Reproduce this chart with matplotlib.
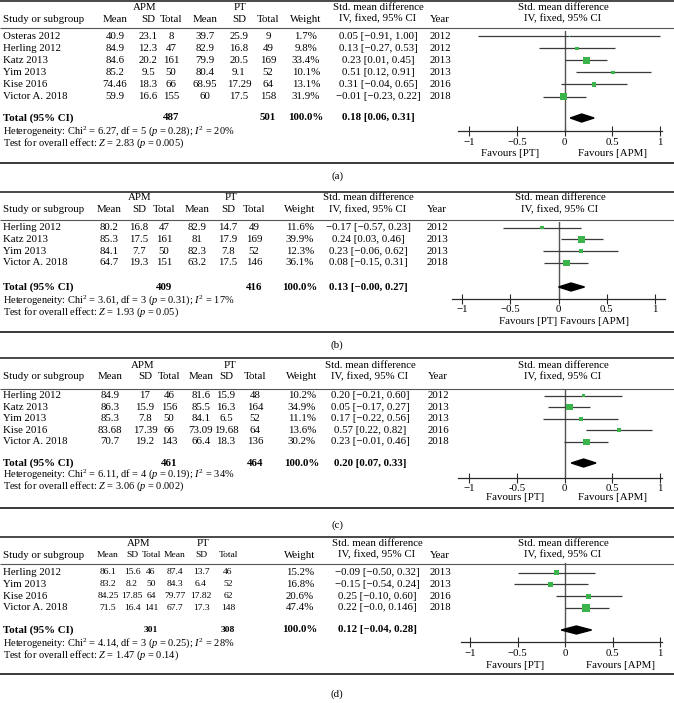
import matplotlib
matplotlib.use('Agg')
import matplotlib.pyplot as plt
from matplotlib.lines import Line2D
from matplotlib.patches import Polygon

plt.rcParams['font.family'] = ['Liberation Serif', 'DejaVu Serif']
plt.rcParams['mathtext.fontset'] = 'custom'
plt.rcParams['mathtext.rm'] = 'Liberation Serif'
plt.rcParams['mathtext.it'] = 'Liberation Serif:italic'
plt.rcParams['mathtext.bf'] = 'Liberation Serif:bold'

# ---------------- data: panel (a) ----------------
a_study = ["Osteras 2012", "Herling 2012", "Katz 2013", "Yim 2013", "Kise 2016", "Victor A. 2018"]
a_apm_mean = [40.9, 84.9, 84.6, 85.2, 74.46, 59.9]
a_apm_sd = [23.1, 12.3, 20.2, 9.5, 18.3, 16.6]
a_apm_n = [8, 47, 161, 50, 66, 155]
a_pt_mean = [39.7, 82.9, 79.9, 80.4, 68.95, 60]
a_pt_sd = [25.9, 16.8, 20.5, 9.1, 17.29, 17.5]
a_pt_n = [9, 49, 169, 52, 64, 158]
a_weight = [1.7, 9.8, 33.4, 10.1, 13.1, 31.9]
a_smd = [0.05, 0.13, 0.23, 0.51, 0.31, -0.01]
a_lo = [-0.91, -0.27, 0.01, 0.12, -0.04, -0.23]
a_hi = [1.00, 0.53, 0.45, 0.91, 0.65, 0.22]
a_ci_text = ["0.05 [−0.91, 1.00]", "0.13 [−0.27, 0.53]", "0.23 [0.01, 0.45]",
             "0.51 [0.12, 0.91]", "0.31 [−0.04, 0.65]", "−0.01 [−0.23, 0.22]"]
a_year = [2012, 2012, 2013, 2013, 2016, 2018]
a_total_n = [487, 501]
a_total_weight = "100.0%"
a_total_smd = [0.18, 0.06, 0.31]
a_total_text = "0.18 [0.06, 0.31]"
a_het = ["6.27", "5", "0.28", "20"]
a_z = ["2.83", "0.005"]
a_ticklabels = ["−1", "−0.5", "0", "0.5", "1"]

# ---------------- data: panel (b) ----------------
b_study = ["Herling 2012", "Katz 2013", "Yim 2013", "Victor A. 2018"]
b_apm_mean = [80.2, 85.3, 84.1, 64.7]
b_apm_sd = [16.8, 17.5, 7.7, 19.3]
b_apm_n = [47, 161, 50, 151]
b_pt_mean = [82.9, 81, 82.3, 63.2]
b_pt_sd = [14.7, 17.9, 7.8, 17.5]
b_pt_n = [49, 169, 52, 146]
b_weight = [11.6, 39.9, 12.3, 36.1]
b_smd = [-0.17, 0.24, 0.23, 0.08]
b_lo = [-0.57, 0.03, -0.16, -0.15]
b_hi = [0.23, 0.46, 0.62, 0.31]
b_ci_text = ["−0.17 [−0.57, 0.23]", "0.24 [0.03, 0.46]", "0.23 [−0.06, 0.62]", "0.08 [−0.15, 0.31]"]
b_year = [2012, 2013, 2013, 2018]
b_total_n = [409, 416]
b_total_weight = "100.0%"
b_total_smd = [0.13, -0.00, 0.27]
b_total_text = "0.13 [−0.00, 0.27]"
b_het = ["3.61", "3", "0.31", "17"]
b_z = ["1.93", "0.05"]
b_ticklabels = ["−1", "−0.5", "0", "0.5", "1"]

# ---------------- data: panel (c) ----------------
c_study = ["Herling 2012", "Katz 2013", "Yim 2013", "Kise 2016", "Victor A. 2018"]
c_apm_mean = [84.9, 86.3, 85.3, 83.68, 70.7]
c_apm_sd = [17, 15.9, 7.8, 17.39, 19.2]
c_apm_n = [46, 156, 50, 66, 143]
c_pt_mean = [81.6, 85.5, 84.1, 73.09, 66.4]
c_pt_sd = [15.9, 16.3, 6.5, 19.68, 18.3]
c_pt_n = [48, 164, 52, 64, 136]
c_weight = [10.2, 34.9, 11.1, 13.6, 30.2]
c_smd = [0.20, 0.05, 0.17, 0.57, 0.23]
c_lo = [-0.21, -0.17, -0.22, 0.22, -0.01]
c_hi = [0.60, 0.27, 0.56, 0.92, 0.46]
c_ci_text = ["0.20 [−0.21, 0.60]", "0.05 [−0.17, 0.27]", "0.17 [−0.22, 0.56]",
             "0.57 [0.22, 0.82]", "0.23 [−0.01, 0.46]"]
c_year = [2012, 2013, 2013, 2016, 2018]
c_total_n = [461, 464]
c_total_weight = "100.0%"
c_total_smd = [0.20, 0.07, 0.33]
c_total_text = "0.20 [0.07, 0.33]"
c_het = ["6.11", "4", "0.19", "34"]
c_z = ["3.06", "0.002"]
c_ticklabels = ["−1", "-0.5", "0", "0.5", "1"]

# ---------------- data: panel (d) ----------------
d_study = ["Herling 2012", "Yim 2013", "Kise 2016", "Victor A. 2018"]
d_apm_mean = [86.1, 83.2, 84.25, 71.5]
d_apm_sd = [15.6, 8.2, 17.85, 16.4]
d_apm_n = [46, 50, 64, 141]
d_pt_mean = [87.4, 84.3, 79.77, 67.7]
d_pt_sd = [13.7, 6.4, 17.82, 17.3]
d_pt_n = [46, 52, 62, 148]
d_weight = [15.2, 16.8, 20.6, 47.4]
d_smd = [-0.09, -0.15, 0.25, 0.22]
d_lo = [-0.50, -0.54, -0.10, 0.0]
d_hi = [0.32, 0.24, 0.60, 0.46]
d_ci_text = ["−0.09 [−0.50, 0.32]", "−0.15 [−0.54, 0.24]", "0.25 [−0.10, 0.60]", "0.22 [−0.0, 0.146]"]
d_year = [2013, 2013, 2016, 2018]
d_total_n = [301, 308]
d_total_weight = "100.0%"
d_total_smd = [0.12, -0.04, 0.28]
d_total_text = "0.12 [−0.04, 0.28]"
d_het = ["4.14", "3", "0.25", "28"]
d_z = ["1.47", "0.14"]
d_ticklabels = ["−1", "−0.5", "0", "0.5", "1"]

panel_labels = ["(a)", "(b)", "(c)", "(d)"]
tick_values = [-1, -0.5, 0, 0.5, 1]

# ---------------- layout (pixel positions) ----------------
W, H = 674, 703
FS = 7.8
GREEN = '#3bb54a'
RULE = '#2a2a2a'
CI_COL = '#3a3a3a'

layouts = [
    dict(top=1, h1=8, h2=19, hline=28, row0=36.5, dy=12.0, total=118, het=131, test=143,
         bottom=163, label=176, numfs=FS,
         cols=[115, 148, 171, 205, 239, 268, 306, 378, 440], apm=145, pt=240,
         xm1=469, xp1=660, xlo=-1.115, xhi=1.02, vtop=31, axis=131, fav_y=154,
         fav_pt=(510, 'center'), fav_apm=(612, 'center'), fhead=563),
    dict(top=192, h1=198, h2=210, hline=220, row0=227.5, dy=11.8, total=287, het=300, test=312,
         bottom=332, label=345, numfs=FS,
         cols=[109, 139, 164, 197, 228, 254, 300, 368, 437], apm=140, pt=231,
         xm1=462, xp1=655, xlo=-1.10, xhi=1.10, vtop=222, axis=298.5, fav_y=322,
         fav_pt=(557, 'right'), fav_apm=(560, 'left'), fhead=560),
    dict(top=358, h1=365, h2=377, hline=389, row0=395.5, dy=11.6, total=463, het=474, test=486,
         bottom=508, label=525, numfs=FS,
         cols=[110, 145, 169, 201, 226, 255, 302, 370, 438], apm=143, pt=230,
         xm1=469, xp1=660, xlo=-1.115, xhi=1.02, vtop=390, axis=477.5, fav_y=497,
         fav_pt=(515, 'center'), fav_apm=(612, 'center'), fhead=563),
    dict(top=537, h1=543.5, h2=555, hline=564, row0=572.5, dy=11.8, total=630, het=643, test=655,
         bottom=674, label=694, numfs=6.8,
         cols=[108, 132, 151, 175, 201, 228, 300, 377, 440], apm=139, pt=203,
         xm1=470, xp1=660, xlo=-1.10, xhi=1.02, vtop=563, axis=642, fav_y=666,
         fav_pt=(515, 'center'), fav_apm=(620, 'center'), fhead=563),
]

panels = [
    (a_study, a_apm_mean, a_apm_sd, a_apm_n, a_pt_mean, a_pt_sd, a_pt_n, a_weight,
     a_smd, a_lo, a_hi, a_ci_text, a_year, a_total_n, a_total_weight, a_total_smd, a_total_text,
     a_het, a_z, a_ticklabels),
    (b_study, b_apm_mean, b_apm_sd, b_apm_n, b_pt_mean, b_pt_sd, b_pt_n, b_weight,
     b_smd, b_lo, b_hi, b_ci_text, b_year, b_total_n, b_total_weight, b_total_smd, b_total_text,
     b_het, b_z, b_ticklabels),
    (c_study, c_apm_mean, c_apm_sd, c_apm_n, c_pt_mean, c_pt_sd, c_pt_n, c_weight,
     c_smd, c_lo, c_hi, c_ci_text, c_year, c_total_n, c_total_weight, c_total_smd, c_total_text,
     c_het, c_z, c_ticklabels),
    (d_study, d_apm_mean, d_apm_sd, d_apm_n, d_pt_mean, d_pt_sd, d_pt_n, d_weight,
     d_smd, d_lo, d_hi, d_ci_text, d_year, d_total_n, d_total_weight, d_total_smd, d_total_text,
     d_het, d_z, d_ticklabels),
]

fig = plt.figure(figsize=(W / 100, H / 100), dpi=100)


def txt(x, y, s, ha='center', **kw):
    fs = kw.pop('fontsize', FS)
    fig.text(x / W, 1 - y / H, s, ha=ha, va='center', fontsize=fs, **kw)


def rule(y, lw, color=RULE):
    fig.add_artist(Line2D([0, 1], [1 - y / H] * 2, transform=fig.transFigure,
                          lw=lw, color=color, solid_capstyle='butt'))


def fmt(v):
    return f"{v:g}"


for L, P, plabel in zip(layouts, panels, panel_labels):
    (study, am, asd, an, pm, psd, pn, wt, smd, lo, hi, citext, year,
     tot_n, tot_w, tot_smd, tot_text, het, z, ticklabels) = P
    cols = L['cols']
    nfs = L['numfs']

    # rules
    rule(L['top'], 1.2)
    rule(L['hline'], 0.8, '#555555')
    rule(L['bottom'], 1.3)

    # headers
    txt(L['apm'], L['h1'], "APM")
    txt(L['pt'], L['h1'], "PT")
    txt(cols[7], L['h1'], "Std. mean difference")
    txt(L['fhead'], L['h1'], "Std. mean difference")
    txt(3, L['h2'], "Study or subgroup", ha='left')
    for cx, s in zip(cols[:6], ["Mean", "SD", "Total", "Mean", "SD", "Total"]):
        txt(cx, L['h2'], s, fontsize=nfs)
    txt(cols[6], L['h2'], "Weight")
    txt(cols[7], L['h2'], "IV, fixed, 95% CI")
    txt(cols[8], L['h2'], "Year")
    txt(L['fhead'], L['h2'], "IV, fixed, 95% CI")

    # study rows
    ys = [L['row0'] + i * L['dy'] for i in range(len(study))]
    for i, y in enumerate(ys):
        txt(3, y, study[i], ha='left')
        nums = [fmt(am[i]), fmt(asd[i]), str(an[i]), fmt(pm[i]), fmt(psd[i]), str(pn[i])]
        for cx, s in zip(cols[:6], nums):
            txt(cx, y, s, fontsize=nfs)
        txt(cols[6], y, f"{wt[i]:.1f}%")
        txt(cols[7], y, citext[i])
        txt(cols[8], y, str(year[i]))

    # total rows
    txt(3, L['total'], "Total (95% CI)", ha='left', fontweight='bold')
    txt(cols[2], L['total'], str(tot_n[0]), fontweight='bold', fontsize=nfs)
    txt(cols[5], L['total'], str(tot_n[1]), fontweight='bold', fontsize=nfs)
    txt(cols[6], L['total'], tot_w, fontweight='bold')
    txt(cols[7], L['total'], tot_text, fontweight='bold')
    txt(3, L['het'], "Heterogeneity: Chi$^2$ = %s, df = %s ($p$ = %s); $I^2$ = %s%%" % tuple(het),
        ha='left', fontsize=7.5)
    txt(3, L['test'], "Test for overall effect: $Z$ = %s ($p$ = %s)" % tuple(z), ha='left', fontsize=7.5)
    txt(337, L['label'], plabel)

    # forest plot
    unit = (L['xp1'] - L['xm1']) / 2.0
    left = L['xm1'] + (L['xlo'] + 1) * unit
    right = L['xm1'] + (L['xhi'] + 1) * unit
    ax = fig.add_axes([left / W, 1 - L['axis'] / H, (right - left) / W, (L['axis'] - L['vtop']) / H])
    ax.set_xlim(L['xlo'], L['xhi'])
    ax.set_ylim(L['axis'], L['vtop'])
    ax.patch.set_alpha(0)
    for sp in ['left', 'right', 'top']:
        ax.spines[sp].set_visible(False)
    ax.spines['bottom'].set_color(RULE)
    ax.spines['bottom'].set_linewidth(0.9)
    ax.set_yticks([])
    ax.set_xticks(tick_values)
    ax.set_xticklabels(ticklabels)
    ax.tick_params(axis='x', direction='inout', length=7, width=0.8, color=RULE,
                   labelsize=FS, pad=1.5)
    ax.axvline(0, color='#555555', lw=1.0)

    ax.hlines(ys, lo, hi, color=CI_COL, lw=0.9)
    sizes = [(0.8 * w ** 0.5) ** 2 for w in wt]
    ax.scatter(smd, ys, s=sizes, marker='s', color=GREEN, linewidths=0, zorder=3)

    est, tlo, thi = tot_smd
    yt = L['total']
    ax.add_patch(Polygon([(tlo, yt), (est, yt - 4), (thi, yt), (est, yt + 4)],
                         closed=True, color='black', zorder=3))

    txt(L['fav_pt'][0], L['fav_y'], "Favours [PT]", ha=L['fav_pt'][1])
    txt(L['fav_apm'][0], L['fav_y'], "Favours [APM]", ha=L['fav_apm'][1])

fig.savefig('out.png', dpi=100)
